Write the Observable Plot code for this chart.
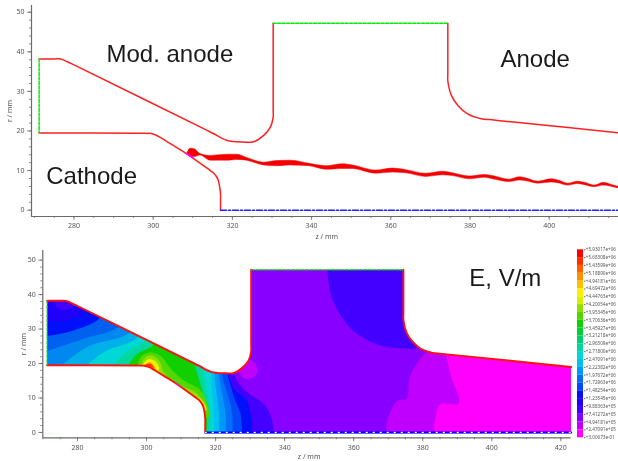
<!DOCTYPE html>
<html><head><meta charset="utf-8">
<script src="https://cdn.jsdelivr.net/npm/d3@7"></script>
<script src="https://cdn.jsdelivr.net/npm/@observablehq/plot@0.6"></script>
<style>
html,body{margin:0;padding:0;background:#fff;overflow:hidden}
#chart{position:relative;width:618px;height:461px;font-family:"Liberation Sans",Arial,sans-serif;filter:blur(0.5px)}
#chart svg{position:absolute;overflow:visible;background:transparent}
</style></head><body><div id="chart"></div>
<script>
// Geometry, z / mm and r / mm
const anodeMod=[[271.2,38.2],[273,38.2],[275,38.2],[276.6,38.2],[278.3,37.5],[280,36.7],[313.5,20.2],[315.3,19.3],[318.7,17.6],[322.5,17.2],[325.4,17.3],[327.9,18.9],[329.6,21],[330.3,23.5],[330.3,25],[330.3,27],[330.3,45.8],[330.3,47.2]];
const anodeMain=[[374.4,47.2],[374.4,45.8],[374.4,34.5],[374.4,32.7],[375.3,29],[377,26.4],[379.4,24.3],[382.8,23.1],[385,22.88],[387,22.67],[423,19]];
const cathode=[[271.2,19.5],[296,19.45],[298,19.4],[299.5,19.35],[300.6,19],[301.8,18.4],[303.4,17.4],[306.5,15.5],[308.2,14.4],[312,11.75],[313.6,10.6],[315.3,9.3],[316.3,7.9],[316.8,5.8],[317,4],[317,2.5],[317,0]];
const portTop=[[330.3,47.2],[374.4,47.2]];
const portLeft=[[271.2,38.2],[271.2,19.5]];
const axisLine=[[317,0],[423,0]];
const emitter=[[308.2,14.4],[310,13.3]];
// Beam envelope: z, upper r, lower r
const beamZ=[308.6,309.4,310.5,311.9,314.5,318.7,321.2,323.7,327.9,331.3,334.7,339.5,343.7,347.9,350.4,356.3,360.5,363.9,368.9,373.2,375.7,379.9,383.7,385.8,390,392.6,394.3,397.2,400.6,402.3,404.8,407.3,409,411.6,413.7,415.4,417.5];
const beamTop=[14.2,15.5,15.4,14.2,13.7,14,14,13.2,12,12.4,12.5,11.7,11.1,11.6,11.3,10,10.5,10.1,9.2,9.7,9.3,8.5,8.9,8.6,7.7,8.3,8,7.2,7.8,7.5,6.7,7.2,6.9,6.2,6.9,6.5,5.9];
const beamLow=[14.1,13.6,13.4,13.8,12.5,12.5,12.7,12.5,11.3,11.1,11.3,11.1,10.2,10.4,10.4,9.2,9.5,9.3,8.4,8.8,8.6,7.8,8.2,7.8,7.1,7.5,7.3,6.7,7,6.8,6.2,6.6,6.3,5.8,6.2,6,5.5];
// Colour bar
const levels=[5.93017e6,5.68308e6,5.43599e6,5.1889e6,4.94181e6,4.69472e6,4.44763e6,4.20054e6,3.95345e6,3.70636e6,3.45927e6,3.21218e6,2.96509e6,2.718e6,2.47091e6,2.22382e6,1.97672e6,1.72963e6,1.48254e6,1.23545e6,9.88363e5,7.41272e5,4.94181e5,2.47091e5,3.00673e-1];
const levelColors=["#ff0000","#ff3000","#ff6000","#ff9000","#ffc000","#fff000","#d8f000","#90e000","#50d800","#10d000","#00d030","#00d070","#00d8a0","#00d8d8","#00c0f0","#0098f8","#0070f8","#0048f8","#0010f8","#2000f8","#4400ff","#8800ff","#c000ff","#ff00ff"];
// Field contours
const fieldBase=[[269,-1],[430,-1],[430,48],[269,48]];
const rightMid=[[381.5,24],[379,21],[376.2,16.1],[375.3,9.8],[372.9,9.3],[370.8,6.4],[370,0],[430,-1],[430,26],[381.5,26]];
const rightHigh=[[386.4,24],[388.3,16.1],[390.4,8.5],[385,8.1],[383.8,4.5],[383.8,0],[430,-1],[430,26],[386.4,26]];
const upperBlob=[[352.3,48],[353,42],[354.5,37],[359.8,29.6],[367.5,25.3],[374,24.4],[378,24.6],[380,30],[376,48]];
const wallSpot=[[326.5,18],[328,15.9],[330,15.6],[331.6,16.6],[332.2,18.2],[331.4,20],[329.8,21],[327.5,20.5]];
const midA=[[336.9,-1],[336.1,4.5],[334,8.3],[329.7,11.2],[326.8,14.1],[325.3,17],[324.3,18.5],[269,18.5],[269,-1]];
const midB=[[330.6,-1],[330.3,4.5],[328.7,9.8],[325.3,12.7],[323.9,16.1],[322.9,18.5],[269,18.5],[269,-1]];
const midC=[[327.7,-1],[327.2,5.4],[325.3,10.3],[323.9,15.1],[322.4,18.5],[269,18.5],[269,-1]];
const midD=[[324.8,-1],[324.8,5.4],[323.4,11.2],[321.9,16.1],[321.4,18.5],[269,18.5],[269,-1]];
const midE=[[322.9,-1],[322.9,5.4],[321.9,11.2],[321,16.1],[320.5,18.5],[269,18.5],[269,-1]];
const midF=[[321,-1],[321,5.4],[320.3,11.2],[319.7,16.1],[319.5,18.5],[269,18.5],[269,-1]];
const midG=[[319.5,-1],[319.5,5.4],[319,11.2],[318.7,16.1],[318.6,18.5],[269,24],[269,-1]];
const midH=[[318.4,-1],[318.4,5.4],[317.6,11.2],[316.8,16.1],[316.1,19.4],[269,30],[269,-1]];
const midI=[[317.4,-1],[317.4,6.4],[316.1,12.2],[314.7,17],[312.8,22],[269,42],[269,-1]];
const leftTeal=[[293.9,18],[296.8,22.4],[303.1,26.7],[303.1,45],[269,45],[269,18]];
const leftCyan=[[289.6,18],[293.4,22.8],[300.2,27.7],[300.2,45],[269,45],[269,18]];
const leftB1=[[280.9,18],[287.6,23.3],[298.3,28.6],[298.3,45],[269,45],[269,18]];
const leftB2=[[273.6,18],[282.8,24.8],[295.8,29.8],[295.8,45],[269,45],[269,18]];
const leftB3=[[269,23],[281.8,27.2],[292.5,31.5],[292.5,45],[269,45]];
const leftB4=[[269,27.7],[278.9,29.6],[287.1,34],[287.1,45],[269,45]];
const leftB5=[[269,32.5],[277,32.5],[282.3,35.4],[283.3,39.3],[269,39.3]];
const leftBlob=[[273.1,39],[274.1,36.2],[276.5,35.6],[278.9,36.6],[279.9,37.8],[276,39.5]];
const tipA=[[297.3,19],[298.3,21.9],[301.2,23.3],[304.5,21.9],[307,18.5],[310.8,15.1],[315.7,12.2],[318.1,6.4],[318.1,4.5],[315.7,4.5],[306,13.2],[299.2,18.5]];
const tipB=[[298.3,19],[299.2,21.4],[301.2,22.4],[303.6,20.9],[305,17.5],[308.9,14.1],[314.7,11.2],[317.4,6.4],[315.7,6.4],[306,13.7]];
const tipC=[[298.7,19.2],[300.2,21.1],[302.1,20.9],[303.6,18.8],[303.1,17.5],[301.2,18.8]];
const tipD=[[299.2,19.4],[300.7,20.4],[302.1,19.4],[302.6,18],[301.2,19]];
const tipE=[[299.7,19.6],[301.2,19.9],[302.1,18.8]];
const kneeSpot=[[314.7,10.3],[316.6,8.8],[317.4,6.4],[316.6,6.9],[315.2,8.8]];
// Outside-of-domain regions
const maskTop=[[268,54],[268,38.2],[269.5,38.2],...anodeMod,[332,47.2],[372.7,47.2],...anodeMain,[424,18.9],[425.5,18.7],[425.5,54]];
const maskBottom=[[268,19.5],[269.5,19.5],...cathode,[317,-0.3],[268,-0.3]];
const maskLeft=[[268,-1],[271.2,-1],[271.2,40],[268,40]];
const maskUnder=[[268,-0.2],[425.5,-0.2],[425.5,-1.6],[268,-1.6]];
// Axis ticks and labels
const zMajor=[280,300,320,340,360,380,400,420];
const zMinor=d3.range(270,425,5);
const rMajor=[0,10,20,30,40,50];
const rMinor=d3.range(0,52,2);
const topLabels=[{t:"Mod. anode",z:288.2,r:39.3},{t:"Anode",z:387.7,r:38},{t:"Cathode",z:273,r:8.5}];
const bottomLabels=[{t:"E, V/m",z:393.5,r:44.7}];

const gray="#6a6a6a";
const poly=(pts,fill,curve="catmull-rom")=>Plot.line(pts,{x:d=>d[0],y:d=>d[1],fill,stroke:"none",curve,clip:true});
const mask=(pts,curve="catmull-rom")=>Plot.line(pts,{x:d=>d[0],y:d=>d[1],fill:"#fff",stroke:"none",curve});
const path=(pts,o)=>Plot.line(pts,{x:d=>d[0],y:d=>d[1],...o});
const outline=(pts,o)=>path(pts,{curve:"catmull-rom",...o});
const axes=(x0,y0,zTicks)=>[
  Plot.axisX(zMinor.filter(v=>v<=zTicks),{tickSize:2,tickFormat:()=>"",label:null,stroke:gray,strokeWidth:.8}),
  Plot.axisX(zMajor.filter(v=>v<=zTicks),{tickSize:4,tickPadding:3,label:null,stroke:gray,fill:"#555",fontSize:7,strokeWidth:.8}),
  Plot.axisY(rMinor,{tickSize:2,tickFormat:()=>"",label:null,stroke:gray,strokeWidth:.8}),
  Plot.axisY(rMajor,{tickSize:4,tickPadding:3,label:null,stroke:gray,fill:"#555",fontSize:7,strokeWidth:.8}),
  Plot.ruleY([y0],{stroke:gray,strokeWidth:1.2}),
  Plot.ruleX([x0],{stroke:gray,strokeWidth:1.2})
];
const bigText=d=>Plot.text(d,{x:"z",y:"r",text:"t",textAnchor:"start",fontSize:24,fill:"#1a1a1a",fontFamily:"Liberation Sans"});

const topPlot=Plot.plot({width:618,height:240,marginLeft:31,marginRight:0,marginTop:5,marginBottom:24,
  x:{domain:[269.27,417.5],axis:null},y:{domain:[-1.6,51.7],axis:null},
  marks:[
    outline(anodeMod,{stroke:"#ff2020",strokeWidth:1.5}),
    outline(anodeMain,{stroke:"#ff2020",strokeWidth:1.5,clip:true}),
    outline(cathode,{stroke:"#ff2020",strokeWidth:1.5}),
    path(portTop,{stroke:"#00f000",strokeWidth:1.5,strokeDasharray:"3,1.5"}),
    path(portLeft,{stroke:"#00f000",strokeWidth:1.5,strokeDasharray:"3,1.5"}),
    path(axisLine,{stroke:"#2020ff",strokeWidth:1.5,strokeDasharray:"6,2,2,2",clip:true}),
    Plot.areaY(beamZ.map((z,i)=>({z,a:beamTop[i],b:beamLow[i]})),{x:"z",y1:"a",y2:"b",fill:"#f40000",stroke:"#f40000",strokeWidth:.5,curve:"monotone-x"}),
    path(emitter,{stroke:"#ff00ff",strokeWidth:1.6}),
    bigText(topLabels),
    ...axes(269.27,-1.6,415),
    Plot.text(["r / mm"],{frameAnchor:"left",textAnchor:"middle",dx:-22,rotate:-90,fontSize:7,fill:"#555"}),
    Plot.text(["z / mm"],{frameAnchor:"bottom-left",dx:284,dy:22,fontSize:7,fill:"#555"})
  ]});
topPlot.style.left="0px";topPlot.style.top="0px";

const bottomPlot=Plot.plot({width:618,height:221,marginLeft:42.3,marginRight:47.3,marginTop:10,marginBottom:23.7,
  x:{domain:[269.95,423],axis:null},y:{domain:[-1.55,52.8],axis:null},
  marks:[
    poly(fieldBase,"#8800ff","linear"),
    poly(upperBlob,"#4400ff"),
    poly(rightMid,"#c000ff"),
    poly(rightHigh,"#ff00ff"),
    poly(wallSpot,"#c000ff"),
    poly(midA,"#4400ff"),
    poly(midB,"#0010f8"),
    poly(midC,"#0048f8"),
    poly(midD,"#0070f8"),
    poly(midE,"#0098f8"),
    poly(midF,"#00c0f0"),
    poly(midG,"#00d8d8"),
    poly(midH,"#00d8a0"),
    poly(midI,"#10d000"),
    poly(leftTeal,"#00d8a0"),
    poly(leftCyan,"#00d8d8"),
    poly(leftB1,"#00b0e8"),
    poly(leftB2,"#0088f0"),
    poly(leftB3,"#0060f0"),
    poly(leftB4,"#0010f8"),
    poly(leftB5,"#2000f8"),
    poly(leftBlob,"#4400ff"),
    poly(tipA,"#50d800"),
    poly(tipB,"#90e000"),
    poly(tipC,"#fff000"),
    poly(tipD,"#ff9000"),
    poly(tipE,"#ff3000"),
    poly(kneeSpot,"#d8f000"),
    mask(maskTop),
    mask(maskBottom),
    mask(maskLeft,"linear"),
    mask(maskUnder,"linear"),
    outline(anodeMod,{stroke:"#ff1010",strokeWidth:1.9}),
    outline(anodeMain,{stroke:"#ff1010",strokeWidth:1.9}),
    outline(cathode,{stroke:"#ff1010",strokeWidth:1.9}),
    path(portTop,{stroke:"#00d000",strokeWidth:1.2,strokeDasharray:"3,1.5"}),
    path(portLeft,{stroke:"#00d000",strokeWidth:1.2,strokeDasharray:"3,1.5"}),
    path(axisLine,{stroke:"#0000ff",strokeWidth:2}),
    path(axisLine,{stroke:"#fff",strokeWidth:1.2,strokeDasharray:"1,6"}),
    path(emitter,{stroke:"#ff00ff",strokeWidth:1}),
    bigText(bottomLabels),
    ...axes(269.95,-1.55,420),
    Plot.text(["r / mm"],{frameAnchor:"left",textAnchor:"middle",dx:-19.5,rotate:-90,fontSize:7,fill:"#555"}),
    Plot.text(["z / mm"],{frameAnchor:"bottom-left",dx:255,dy:21,fontSize:7,fill:"#555"})
  ]});
bottomPlot.style.left="0px";bottomPlot.style.top="240px";

const cells=levelColors.map((c,i)=>({hi:levels[i],lo:levels[i+1],c}));
const fmt=v=>{const [m,e]=v.toExponential(5).split("e");const n=+e;return "+"+m+"e"+(n<0?"-":"+")+String(Math.abs(n)).padStart(2,"0");};
const barPlot=Plot.plot({width:48,height:221,marginLeft:7,marginRight:35,marginTop:9.3,marginBottom:23.7,
  x:{domain:[0,1],axis:null},y:{domain:[0.300673,5.93017e6],axis:null},
  marks:[
    Plot.rect(cells,{x1:0,x2:1,y1:"lo",y2:"hi",fill:"c"}),
    Plot.axisY(levels,{anchor:"right",tickSize:1.5,tickPadding:.8,label:null,tickFormat:fmt,stroke:gray,fill:"#555",fontSize:4.6})
  ]});
barPlot.style.left="570px";barPlot.style.top="240px";

document.getElementById("chart").append(topPlot,bottomPlot,barPlot);
</script></body></html>
